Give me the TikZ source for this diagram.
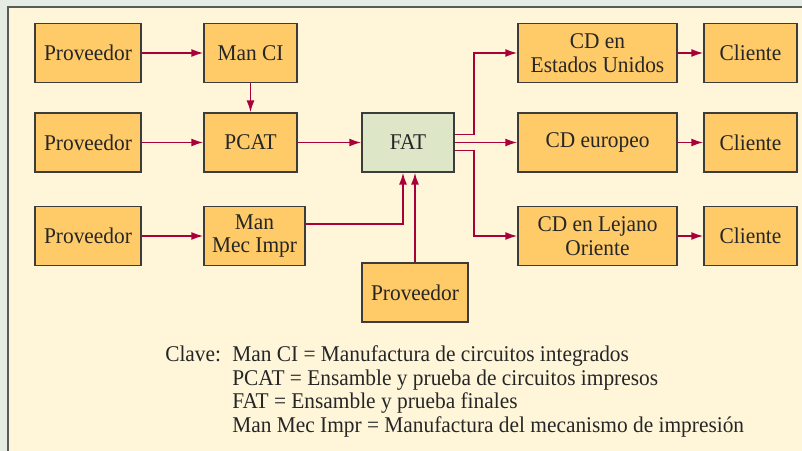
\documentclass[tikz,border=0pt]{standalone}
\usepackage{fontspec}
\setmainfont[FakeStretch=0.95]{Liberation Serif}
\usetikzlibrary{arrows.meta,calc}
\definecolor{boxorange}{RGB}{255,202,104}
\definecolor{fatgreen}{RGB}{222,230,200}
\definecolor{cream}{RGB}{255,246,218}
\definecolor{topband}{RGB}{229,236,228}
\definecolor{framegray}{RGB}{90,90,90}
\definecolor{boxedge}{RGB}{60,60,60}
\definecolor{flowred}{RGB}{168,0,56}
\begin{document}
\begin{tikzpicture}
[x=0.025cm, y=-0.025cm, font=\fontsize{16}{16.6}\selectfont, >={Latex[length=0.3cm,width=0.2cm]}]
\tikzstyle{block}=[rectangle, draw=boxedge, line width=0.9pt, fill=boxorange, text=black!85, minimum height=1.47cm, inner sep=0mm, align=center]
\tikzstyle{flow}=[->, draw=flowred, line width=1.3pt]
\useasboundingbox (0,0) rectangle (802,451);
\fill[topband] (0,0) rectangle (802,451);
\filldraw[fill=cream, draw=framegray, line width=1pt] (8,7) rectangle (815,465);

% suppliers and sub-assemblies
\node[block, minimum width=2.65cm]	(P1)	at (88,53)	{Proveedor};
\node[block, minimum width=2.325cm]	(ManCI)	at (250.5,53)	{Man CI};
\node[block, minimum width=2.65cm]	(P2)	at (88,142.5)	{Proveedor};
\node[block, minimum width=2.325cm]	(PCAT)	at (250.5,142.5)	{PCAT};
\node[block, minimum width=2.65cm]	(P3)	at (88,236)	{Proveedor};
\node[block, minimum width=2.525cm]	(MMI)	at (254.5,236)	{Man\\Mec Impr};
\node[block, minimum width=2.3cm, fill=fatgreen]	(FAT)	at (408,142.5)	{FAT};
\node[block, minimum width=2.65cm]	(P4)	at (415,292.5)	{Proveedor};

% distribution centres and customers
\node[block, minimum width=3.975cm]	(CDus)	at (597.5,53)	{CD en\\Estados Unidos};
\node[block, minimum width=3.975cm]	(CDeu)	at (597.5,142.5)	{CD europeo};
\node[block, minimum width=3.975cm]	(CDlo)	at (597.5,236)	{CD en Lejano\\Oriente};
\node[block, minimum width=2.325cm]	(C1)	at (750.5,53)	{Cliente};
\node[block, minimum width=2.325cm]	(C2)	at (750.5,142.5)	{Cliente};
\node[block, minimum width=2.325cm]	(C3)	at (750.5,236)	{Cliente};

\draw[flow]	(P1) -- (ManCI);
\draw[flow]	(ManCI) -- (PCAT);
\draw[flow]	(P2) -- (PCAT);
\draw[flow]	(PCAT) -- (FAT);
\draw[flow]	(P3) -- (MMI);
\draw[flow]	($(MMI.east)+(0,-12)$) -| ($(FAT.south)+(-5,0)$);
\draw[flow]	(P4) -- (P4 |- FAT.south);
\draw[flow]	($(FAT.east)+(0,-8)$) -- ++(19,0) |- (CDus);
\draw[flow]	(FAT) -- (CDeu);
\draw[flow]	($(FAT.east)+(0,8)$) -- ++(19,0) |- (CDlo);
\draw[flow]	(CDus) -- (C1);
\draw[flow]	(CDeu) -- (C2);
\draw[flow]	(CDlo) -- (C3);

% key
\node[anchor=base west, inner sep=0mm, text=black!85]	(clave)	at (165,362)	{Clave:};
\node[anchor=base west, inner sep=0mm, text=black!85]	(keylist)	at (232,362)	{\begin{tabular}[t]{@{}l@{}}
Man CI = Manufactura de circuitos integrados\\
PCAT = Ensamble y prueba de circuitos impresos\\
FAT = Ensamble y prueba finales\\
Man Mec Impr = Manufactura del mecanismo de impresión
\end{tabular}};
\end{tikzpicture}
\end{document}
